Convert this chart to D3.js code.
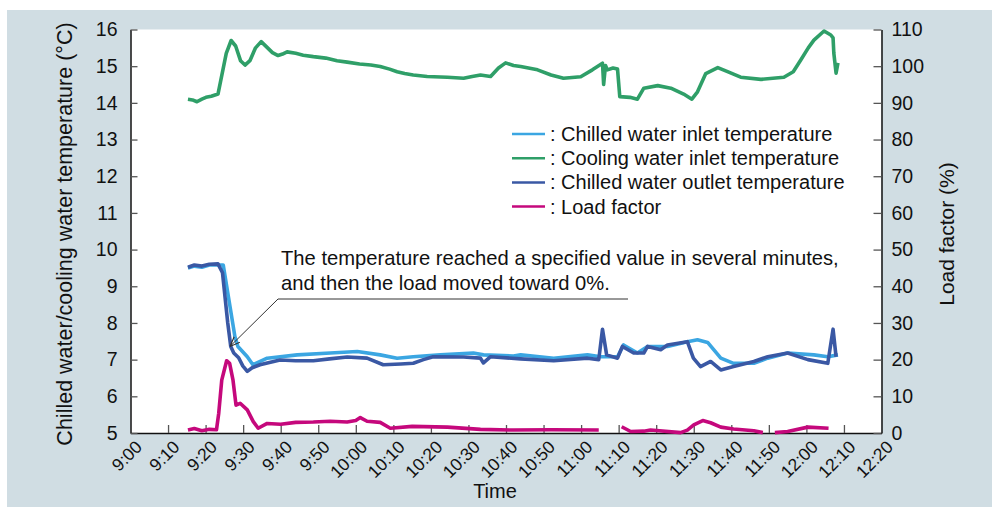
<!DOCTYPE html>
<html>
<head>
<meta charset="utf-8">
<script src="https://cdn.jsdelivr.net/npm/d3@7"></script>
<style>
  body { margin: 0; background: #fff; }
  svg text { font-family: "Liberation Sans", Arial, Helvetica, sans-serif; fill: #111; }
</style>
</head>
<body>
<div id="chart"></div>
<script>
// ===== Data (time = minutes after 9:00) =====
const coolingTime = [15.3, 16.5, 17.7, 19.0, 20.1, 21.5, 23.3, 25.5, 26.8, 28.0, 29.3, 30.5, 31.8, 33.3, 34.8, 36.3, 37.8, 39.3, 40.5, 41.7, 44, 46, 48.7, 52, 55, 57.7, 61, 64, 66.5, 69, 71, 73, 75.3, 79, 84.4, 88.7, 91, 93.2, 95.9, 98, 99.9, 102, 103.9, 108.4, 112, 115.3, 119.9, 123, 125.7, 126.0, 126.5, 127, 128.5, 129.7, 130.3, 133, 135, 136.7, 140.4, 143.9, 147.3, 149.5, 151, 153.2, 156.4, 159, 162.5, 167.9, 174, 176.5, 178.5, 180.5, 182, 184.7, 186.5, 187.1, 187.3, 187.9, 188.4];
const coolingTemp = [14.10, 14.08, 14.03, 14.10, 14.15, 14.18, 14.24, 15.35, 15.70, 15.55, 15.15, 15.03, 15.15, 15.50, 15.67, 15.52, 15.37, 15.29, 15.33, 15.39, 15.35, 15.30, 15.26, 15.22, 15.15, 15.11, 15.06, 15.03, 14.99, 14.92, 14.85, 14.80, 14.76, 14.72, 14.70, 14.67, 14.72, 14.76, 14.72, 14.95, 15.09, 15.02, 14.99, 14.90, 14.76, 14.67, 14.71, 14.90, 15.08, 14.50, 15.02, 14.90, 14.95, 14.92, 14.17, 14.15, 14.10, 14.40, 14.47, 14.40, 14.24, 14.10, 14.30, 14.80, 14.96, 14.85, 14.70, 14.64, 14.70, 14.85, 15.17, 15.50, 15.71, 15.96, 15.85, 15.77, 15.36, 14.81, 15.09];

const inletTime = [15.3, 17, 19, 21, 24.7, 26.5, 27.8, 28.6, 31.1, 32.6, 36.4, 44.4, 53.2, 60.4, 66.5, 71, 75.3, 82.5, 91.3, 94, 102, 103.9, 112.7, 121.7, 125.2, 129.7, 131.3, 135, 137.7, 143, 148.3, 151, 153.7, 157.2, 160.6, 166, 169.7, 175, 182, 185.7, 188.4];
const inletTemp = [9.50, 9.55, 9.52, 9.58, 9.58, 8.45, 7.63, 7.36, 7.08, 6.86, 7.04, 7.13, 7.18, 7.22, 7.13, 7.04, 7.08, 7.13, 7.18, 7.13, 7.10, 7.13, 7.04, 7.13, 7.08, 7.08, 7.40, 7.18, 7.36, 7.36, 7.49, 7.54, 7.47, 7.04, 6.90, 6.90, 7.04, 7.18, 7.13, 7.08, 7.13];

const outletTime = [15.3, 17, 19, 21, 23.3, 24.5, 25.9, 26.7, 27.5, 28.8, 29.9, 31.1, 32.4, 34.5, 37, 39.8, 44, 48.7, 53, 57.7, 63, 67.3, 72, 75.3, 78, 80.6, 88.7, 93.2, 94, 95.9, 103.9, 112.7, 121.7, 124.7, 125.7, 126.8, 129.7, 131, 134, 136.7, 137.7, 141.2, 143, 148.3, 149.9, 151.8, 154.5, 157.2, 160.6, 166, 169.7, 175, 180.4, 185.7, 187.1, 187.9];
const outletTemp = [9.52, 9.58, 9.55, 9.60, 9.61, 9.37, 8.00, 7.36, 7.18, 7.05, 6.83, 6.68, 6.78, 6.86, 6.92, 6.99, 6.97, 6.97, 7.02, 7.07, 7.04, 6.86, 6.88, 6.90, 7.00, 7.08, 7.07, 7.04, 6.91, 7.08, 7.02, 6.97, 7.04, 7.00, 7.83, 7.13, 7.04, 7.36, 7.18, 7.18, 7.36, 7.27, 7.40, 7.49, 7.04, 6.81, 6.95, 6.72, 6.81, 6.95, 7.08, 7.18, 7.00, 6.90, 7.83, 7.08];

// null = no data recorded
const loadTime = [15.3, 17, 19, 21, 22.9, 23.5, 24.3, 25.6, 26.4, 27.3, 28.1, 29.2, 31.1, 32.7, 34.0, 36.4, 40, 44, 48.7, 53.2, 57.7, 60, 61.2, 63, 66.5, 69.2, 75, 84.4, 93.2, 102, 112, 124.7, 125.2, 130.8, 133.2, 136.7, 138.5, 146.5, 148.3, 150, 152.4, 154.5, 157.2, 160.6, 166, 168.4, 170, 171.6, 175, 180.4, 185.9];
const loadFactor = [0.8, 1.2, 0.6, 1.0, 0.9, 5.4, 14.4, 19.7, 19.0, 14.4, 7.6, 8.1, 6.3, 3.1, 1.3, 2.6, 2.4, 2.9, 3.0, 3.2, 3.0, 3.4, 4.2, 3.2, 2.9, 1.3, 1.8, 1.6, 1.0, 0.8, 0.9, 0.8, null, 1.7, 0.4, 0.5, 0.8, 0.1, 0.8, 2.2, 3.4, 2.8, 1.6, 1.1, 0.6, 0.1, null, 0.1, 0.4, 1.6, 1.3];

const tempTicks = [5, 6, 7, 8, 9, 10, 11, 12, 13, 14, 15, 16];
const loadTicks = [0, 10, 20, 30, 40, 50, 60, 70, 80, 90, 100, 110];

const seriesNames = ["Chilled water inlet temperature", "Cooling water inlet temperature", "Chilled water outlet temperature", "Load factor"];
const seriesColors = ["#3ba6e2", "#2f9f68", "#3a58a4", "#c5087c"];

const noteLines = ["The temperature reached a specified value in several minutes,", "and then the load moved toward 0%."];

// ===== Layout =====
const width = 992;
const height = 507;
const plot = { left: 130.5, right: 881.5, top: 29.5, bottom: 433 };

const svg = d3.select("#chart").append("svg")
  .attr("width", width)
  .attr("height", height);

// Panel background
svg.append("rect")
  .attr("x", 7).attr("y", 10)
  .attr("width", width - 7).attr("height", height - 10)
  .attr("fill", "#d0dde3");

svg.append("rect")
  .attr("x", plot.left).attr("y", plot.top)
  .attr("width", plot.right - plot.left).attr("height", plot.bottom - plot.top)
  .attr("fill", "#fff");

// Scales
const t0 = new Date(2020, 0, 1, 9, 0);
const toDate = m => new Date(t0.getTime() + m * 60000);

const x = d3.scaleTime()
  .domain([t0, toDate(200)])
  .range([plot.left, plot.right]);

const yTemp = d3.scaleLinear()
  .domain([5, 16])
  .range([plot.bottom, plot.top]);

const yLoad = d3.scaleLinear()
  .domain([0, 110])
  .range([plot.bottom, plot.top]);

// Axes
const xAxis = svg.append("g")
  .attr("transform", `translate(0, ${plot.bottom})`)
  .call(d3.axisBottom(x)
    .ticks(d3.timeMinute.every(10))
    .tickSizeInner(-8).tickSizeOuter(0)
    .tickFormat(d3.timeFormat("%-H:%M")));

xAxis.selectAll("text")
  .attr("font-size", 17.5)
  .attr("text-anchor", "end")
  .attr("dy", 0)
  .attr("transform", "translate(10, 13) rotate(-45)");

const leftAxis = svg.append("g")
  .attr("transform", `translate(${plot.left}, 0)`)
  .call(d3.axisLeft(yTemp).tickValues(tempTicks).tickSizeInner(-7).tickSizeOuter(0).tickPadding(13));
leftAxis.selectAll("text").attr("font-size", 19.5);

const rightAxis = svg.append("g")
  .attr("transform", `translate(${plot.right}, 0)`)
  .call(d3.axisRight(yLoad).tickValues(loadTicks).tickSizeInner(-8).tickSizeOuter(0).tickPadding(10));
rightAxis.selectAll("text").attr("font-size", 19.5);

svg.selectAll(".domain").attr("stroke", "#111").attr("stroke-width", 1.5);
svg.selectAll(".tick line").attr("stroke", "#555").attr("stroke-width", 1.3);
// the bottom ticks at 9:00 and 12:20 overlap the frame
xAxis.selectAll(".tick line").filter(d => +d === +t0 || +d === +toDate(200)).remove();

// Axis titles
svg.append("text")
  .attr("transform", "rotate(-90)")
  .attr("x", -234)
  .attr("y", 72)
  .attr("text-anchor", "middle")
  .attr("font-size", 21.5)
  .text("Chilled water/cooling water temperature (°C)");

svg.append("text")
  .attr("transform", "rotate(-90)")
  .attr("x", -234)
  .attr("y", 954)
  .attr("text-anchor", "middle")
  .attr("font-size", 21)
  .text("Load factor (%)");

svg.append("text")
  .attr("x", 495)
  .attr("y", 498)
  .attr("text-anchor", "middle")
  .attr("font-size", 20)
  .text("Time");

// Lines
const tempLine = d3.line()
  .x(d => x(toDate(d[0])))
  .y(d => yTemp(d[1]));

const loadLine = d3.line()
  .defined(d => d[1] !== null)
  .x(d => x(toDate(d[0])))
  .y(d => yLoad(d[1]));

const zipData = (ts, vs) => ts.map((t, i) => [t, vs[i]]);

svg.append("path")
  .datum(zipData(loadTime, loadFactor))
  .attr("fill", "none")
  .attr("stroke", seriesColors[3])
  .attr("stroke-width", 3.6)
  .attr("stroke-linejoin", "round")
  .attr("d", loadLine);

svg.append("path")
  .datum(zipData(coolingTime, coolingTemp))
  .attr("fill", "none")
  .attr("stroke", seriesColors[1])
  .attr("stroke-width", 3.6)
  .attr("stroke-linejoin", "round")
  .attr("d", tempLine);

svg.append("path")
  .datum(zipData(inletTime, inletTemp))
  .attr("fill", "none")
  .attr("stroke", seriesColors[0])
  .attr("stroke-width", 3.6)
  .attr("stroke-linejoin", "round")
  .attr("d", tempLine);

svg.append("path")
  .datum(zipData(outletTime, outletTemp))
  .attr("fill", "none")
  .attr("stroke", seriesColors[2])
  .attr("stroke-width", 3.6)
  .attr("stroke-linejoin", "round")
  .attr("d", tempLine);

// Legend
const legend = svg.append("g")
  .attr("transform", "translate(512, 134)");

seriesNames.forEach((name, i) => {
  legend.append("line")
    .attr("x1", 0).attr("x2", 33)
    .attr("y1", i * 24.2).attr("y2", i * 24.2)
    .attr("stroke", seriesColors[i])
    .attr("stroke-width", 2.5);

  legend.append("text")
    .attr("x", 38)
    .attr("y", i * 24.2 + 7)
    .attr("font-size", 20)
    .text(": " + name);
});

// Annotation with arrow
svg.append("defs").append("marker")
  .attr("id", "arrow")
  .attr("viewBox", "0 0 10 10")
  .attr("refX", 10).attr("refY", 5)
  .attr("markerWidth", 10).attr("markerHeight", 10)
  .attr("orient", "auto")
  .append("path")
    .attr("d", "M0,1 L10,5 L0,9")
    .attr("fill", "none")
    .attr("stroke", "#333")
    .attr("stroke-width", 1.2);

const arrowTip = [x(toDate(26.5)), yTemp(7.36)];

svg.append("polyline")
  .attr("points", `628,299 278,299 ${arrowTip[0]},${arrowTip[1]}`)
  .attr("fill", "none")
  .attr("stroke", "#333")
  .attr("stroke-width", 1)
  .attr("marker-end", "url(#arrow)");

noteLines.forEach((line, i) => {
  svg.append("text")
    .attr("x", 281)
    .attr("y", 265 + i * 25)
    .attr("font-size", 20.2)
    .text(line);
});
</script>
</body>
</html>
